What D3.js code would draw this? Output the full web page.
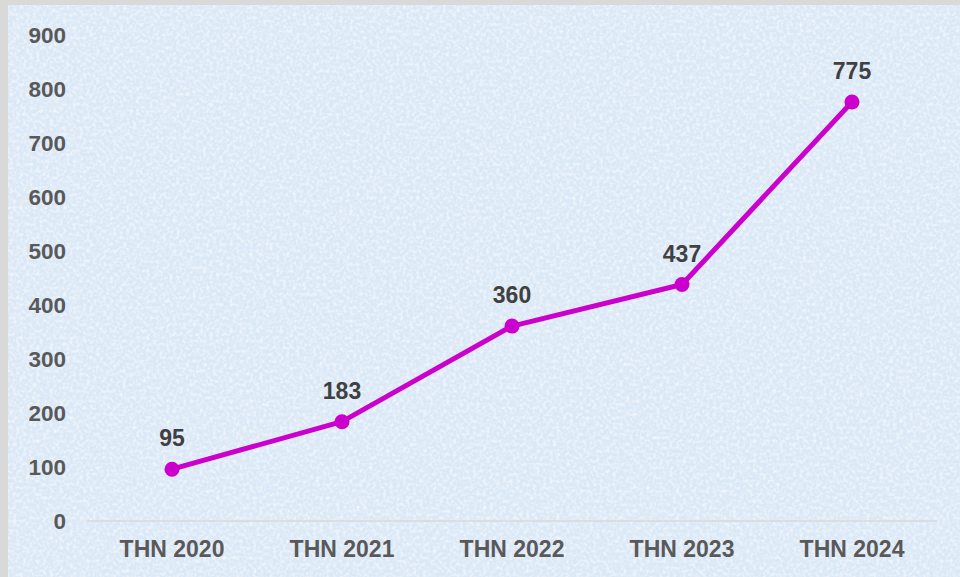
<!DOCTYPE html>
<html>
<head>
<meta charset="utf-8">
<script src="https://cdn.jsdelivr.net/npm/d3@7"></script>
<style>
  html, body { margin: 0; padding: 0; background: #d9d9d9; }
  svg { display: block; }
</style>
</head>
<body>
<svg id="chart" width="960" height="577"></svg>
<script>
// Yearly totals
const categories = ["THN 2020", "THN 2021", "THN 2022", "THN 2023", "THN 2024"];
const values = [95, 183, 360, 437, 775];
const yTicks = [0, 100, 200, 300, 400, 500, 600, 700, 800, 900];

const W = 960, H = 577;
const FONT = "Liberation Sans, Arial, sans-serif";
const svg = d3.select("#chart");

// Light blue textured backdrop: soft blotches plus fine white speckle
const defs = svg.append("defs");
const f1 = defs.append("filter").attr("id", "blotch")
  .attr("x", 0).attr("y", 0).attr("width", "100%").attr("height", "100%");
f1.append("feTurbulence").attr("type", "fractalNoise")
  .attr("baseFrequency", 0.045).attr("numOctaves", 4).attr("seed", 7).attr("result", "n");
f1.append("feColorMatrix").attr("in", "n").attr("type", "matrix")
  .attr("values", "0 0 0 0 0.70  0 0 0 0 0.81  0 0 0 0 0.93  0 0 0 1.6 -0.65");

const f2 = defs.append("filter").attr("id", "speckle")
  .attr("x", 0).attr("y", 0).attr("width", "100%").attr("height", "100%");
f2.append("feTurbulence").attr("type", "fractalNoise")
  .attr("baseFrequency", 0.3).attr("numOctaves", 2).attr("seed", 3).attr("result", "n");
f2.append("feColorMatrix").attr("in", "n").attr("type", "matrix")
  .attr("values", "0 0 0 0 1  0 0 0 0 1  0 0 0 0 1  0 0 0 2 -0.8");

svg.append("rect").attr("x", 8).attr("y", 5).attr("width", W - 8).attr("height", H - 5)
  .attr("fill", "#dbe8f6");
svg.append("rect").attr("x", 8).attr("y", 5).attr("width", W - 8).attr("height", H - 5)
  .attr("filter", "url(#blotch)").attr("opacity", 0.75);
svg.append("rect").attr("x", 8).attr("y", 5).attr("width", W - 8).attr("height", H - 5)
  .attr("filter", "url(#speckle)").attr("opacity", 0.7);

const x = d3.scaleBand().domain(categories).range([87, 937]);
const y = d3.scaleLinear().domain([0, 900]).range([520.5, 34.5]);

// Baseline
svg.append("line")
  .attr("x1", x.range()[0]).attr("x2", x.range()[1])
  .attr("y1", 521).attr("y2", 521)
  .attr("stroke", "#d9d9d9").attr("stroke-width", 1.5);

// Y axis labels
const yAxis = d3.axisLeft(y).tickValues(yTicks).tickSize(0).tickPadding(0);
const gy = svg.append("g").attr("transform", "translate(66,0)").call(yAxis);
gy.select(".domain").remove();
gy.selectAll("text")
  .attr("dy", "0.35em")
  .attr("font-family", FONT)
  .attr("font-size", 22.5).attr("font-weight", "bold").attr("fill", "#595959");

// X axis labels
const xAxis = d3.axisBottom(x).tickSize(0).tickPadding(0);
const gx = svg.append("g").attr("transform", "translate(0,557)").call(xAxis);
gx.select(".domain").remove();
gx.selectAll("text")
  .attr("y", 0).attr("dy", 0)
  .attr("font-family", FONT)
  .attr("font-size", 23).attr("font-weight", "bold").attr("fill", "#595959");

const cx = d => x(d) + x.bandwidth() / 2;
const pts = categories.map((c, i) => ({ c, v: values[i] }));

// Line
svg.append("path").datum(pts)
  .attr("fill", "none").attr("stroke", "#cc00cc").attr("stroke-width", 5)
  .attr("stroke-linejoin", "round")
  .attr("d", d3.line().x(d => cx(d.c)).y(d => y(d.v)));

// Markers
svg.selectAll("circle.pt").data(pts).join("circle")
  .attr("class", "pt")
  .attr("cx", d => cx(d.c)).attr("cy", d => y(d.v)).attr("r", 7.5)
  .attr("fill", "#cc00cc");

// Value labels
svg.selectAll("text.lbl").data(pts).join("text")
  .attr("class", "lbl")
  .attr("x", d => cx(d.c)).attr("y", d => y(d.v) - 23)
  .attr("text-anchor", "middle")
  .attr("font-family", FONT)
  .attr("font-size", 23).attr("font-weight", "bold").attr("fill", "#404040")
  .text(d => d.v);
</script>
</body>
</html>
